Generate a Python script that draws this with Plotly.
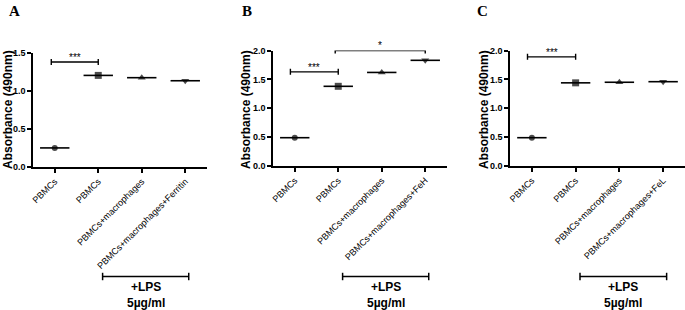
import plotly.graph_objects as go

# ---------------- data ----------------
cat_pos = [0, 1, 2, 3]
labels_A = ["PBMCs", "PBMCs", "PBMCs+macrophages", "PBMCs+macrophages+Ferritin"]
labels_B = ["PBMCs", "PBMCs", "PBMCs+macrophages", "PBMCs+macrophages+FeH"]
labels_C = ["PBMCs", "PBMCs", "PBMCs+macrophages", "PBMCs+macrophages+FeL"]

values_A = [0.25, 1.20, 1.17, 1.13]
values_B = [0.49, 1.38, 1.62, 1.83]
values_C = [0.49, 1.44, 1.45, 1.46]

yticks_A = [0.0, 0.5, 1.0, 1.5]
yticks_BC = [0.0, 0.5, 1.0, 1.5, 2.0]

symbols = ["circle", "square", "triangle-up", "triangle-down"]
sizes = [6, 7, 7, 7]

# significance brackets: (x_start, x_end, height, label)
sig_A = [(-0.08, 1.0, 1.375, "***")]
sig_B = [(-0.1, 1.0, 1.63, "***"), (0.93, 3.0, 2.0, "*")]
sig_C = [(-0.1, 1.0, 1.89, "***")]

lps_span = [1.1, 3.08]
lps_text = ["+LPS", "5µg/ml"]
panel_letters = ["A", "B", "C"]
y_title = "Absorbance (490nm)"

# ---------------- layout helpers ----------------
FONT = "Arial, Liberation Sans, sans-serif"
W, H = 685, 310

def px_x(p):
    return p / W

def px_y(p):
    return 1 - p / H

panels = [
    dict(vals=values_A, labels=labels_A, sig=sig_A, yticks=yticks_A, yr=[0, 1.5],
         xdom=[px_x(33), px_x(207)], ydom=[px_y(167), px_y(52.5)],
         title_x=8, letter_x=14),
    dict(vals=values_B, labels=labels_B, sig=sig_B, yticks=yticks_BC, yr=[0, 2.0],
         xdom=[px_x(273), px_x(447)], ydom=[px_y(166), px_y(50.5)],
         title_x=246, letter_x=247),
    dict(vals=values_C, labels=labels_C, sig=sig_C, yticks=yticks_BC, yr=[0, 2.0],
         xdom=[px_x(510), px_x(685)], ydom=[px_y(166), px_y(50.5)],
         title_x=484, letter_x=482),
]

fig = go.Figure()
annotations = []
shapes = []

for i, p in enumerate(panels):
    n = "" if i == 0 else str(i + 1)
    xa, ya = "x" + n, "y" + n
    # mean lines
    fig.add_trace(go.Scatter(
        x=cat_pos, y=p["vals"], mode="markers", xaxis=xa, yaxis=ya,
        marker=dict(symbol="line-ew", size=21, color="black",
                    line=dict(color="black", width=1.6)),
        cliponaxis=False, showlegend=False, hoverinfo="skip"))
    # data points
    fig.add_trace(go.Scatter(
        x=cat_pos, y=p["vals"], mode="markers", xaxis=xa, yaxis=ya,
        marker=dict(symbol=symbols, size=sizes, color="black",
                    line=dict(width=0)),
        cliponaxis=False, showlegend=False))
    # significance brackets (error bar = bracket with end caps)
    for (x0, x1, h, lab) in p["sig"]:
        fig.add_trace(go.Scatter(
            x=[(x0 + x1) / 2], y=[h], mode="markers", xaxis=xa, yaxis=ya,
            marker=dict(size=1, color="rgba(0,0,0,0)"),
            error_x=dict(type="constant", value=(x1 - x0) / 2, symmetric=True,
                         color="black", thickness=1.4, width=3),
            cliponaxis=False, showlegend=False, hoverinfo="skip"))
        annotations.append(dict(
            x=(x0 + x1) / 2, y=h, xref=xa, yref=ya, text=lab, showarrow=False,
            xanchor="center", yanchor="bottom", yshift=-3,
            font=dict(family=FONT, size=10, color="black")))
    # axes
    fig.layout["xaxis" + n] = dict(
        domain=p["xdom"], range=[-0.5, 3.5], anchor=ya,
        tickmode="array", tickvals=cat_pos, ticktext=p["labels"], tickangle=-45,
        showline=True, linecolor="black", linewidth=1.5, ticks="outside",
        ticklen=4, tickwidth=1.5, tickcolor="black", showgrid=False, zeroline=False,
        tickfont=dict(family=FONT, size=9, color="black"), automargin=False,
        fixedrange=True)
    fig.layout["yaxis" + n] = dict(
        domain=p["ydom"], range=p["yr"], anchor=xa,
        tickmode="array", tickvals=p["yticks"],
        ticktext=["%.1f" % v for v in p["yticks"]],
        showline=True, linecolor="black", linewidth=1.5, ticks="outside",
        ticklen=4, tickwidth=1.5, tickcolor="black", showgrid=False, zeroline=False,
        tickfont=dict(family=FONT, size=9, color="black", weight="bold"),
        automargin=False, fixedrange=True)
    # y title
    annotations.append(dict(
        x=px_x(p["title_x"]), y=px_y(110), xref="paper", yref="paper",
        xanchor="center", yanchor="middle",
        text=y_title, textangle=-90, showarrow=False,
        font=dict(family=FONT, size=12, color="black", weight="bold")))
    # panel letter
    annotations.append(dict(
        x=px_x(p["letter_x"]), y=px_y(11), xref="paper", yref="paper",
        xanchor="center", yanchor="middle",
        text=panel_letters[i], showarrow=False,
        font=dict(family="Times New Roman, Liberation Serif, serif", size=15,
                  color="black", weight="bold")))
    # LPS bracket
    yb = px_y(276.5)
    shapes.append(dict(type="line", xref=xa, yref="paper", x0=lps_span[0], x1=lps_span[1],
                       y0=yb, y1=yb, line=dict(color="black", width=1.5)))
    for xe in lps_span:
        shapes.append(dict(type="line", xref=xa, yref="paper", x0=xe, x1=xe,
                           y0=yb - 0.012, y1=yb + 0.012, line=dict(color="black", width=1.5)))
    xm = (lps_span[0] + lps_span[1]) / 2
    annotations.append(dict(
        x=xm, y=px_y(287), xref=xa, yref="paper", text=lps_text[0], showarrow=False,
        xanchor="center", yanchor="middle",
        font=dict(family=FONT, size=12, color="black", weight="bold")))
    annotations.append(dict(
        x=xm, y=px_y(303), xref=xa, yref="paper", text=lps_text[1], showarrow=False,
        xanchor="center", yanchor="middle",
        font=dict(family=FONT, size=12, color="black", weight="bold")))

fig.update_layout(
    width=W, height=H, margin=dict(l=0, r=0, t=0, b=0),
    paper_bgcolor="white", plot_bgcolor="white",
    annotations=annotations, shapes=shapes, showlegend=False)

fig.write_html("out.html", config={"displayModeBar": False},
               post_script="document.body.style.margin='0';document.body.style.overflow='hidden';")
